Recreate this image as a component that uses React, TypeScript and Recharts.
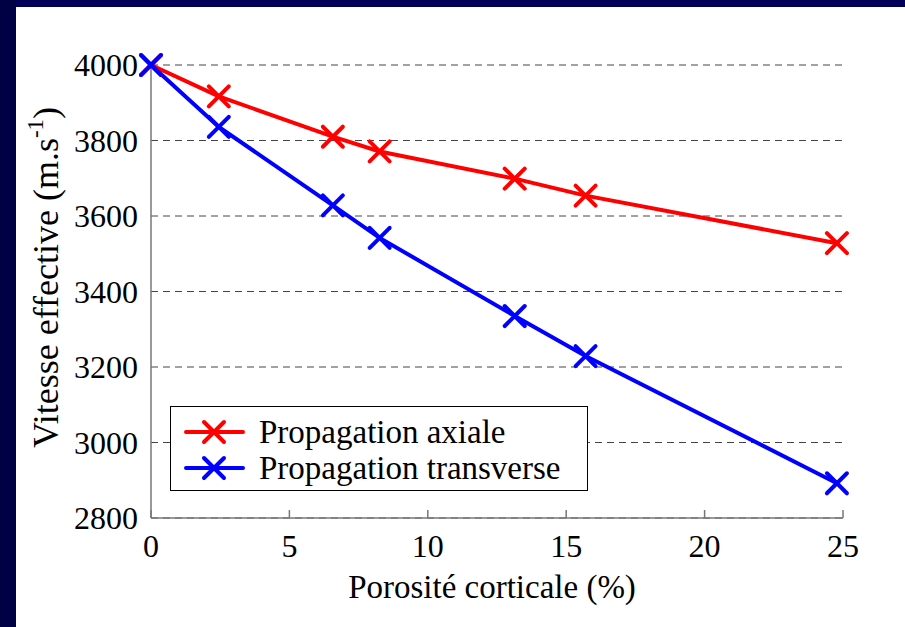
import { LineChart, Line, XAxis, YAxis, CartesianGrid, Legend } from 'recharts';

const porosity = [0, 2.45, 6.57, 8.26, 13.14, 15.7, 24.78];
const axial = [4000, 3917, 3810, 3771, 3699, 3654, 3528];
const transverse = [4000, 3836, 3628, 3542, 3335, 3229, 2892];
const xTicks = [0, 5, 10, 15, 20, 25];
const yTicks = [2800, 3000, 3200, 3400, 3600, 3800, 4000];

const seriesNames = ['Propagation axiale', 'Propagation transverse'];
const seriesColors = ['#ff0000', '#0000ff'];

const rows = porosity.map((p, i) => ({ p, axial: axial[i], transverse: transverse[i] }));

const FONT = '"Liberation Serif", "Times New Roman", serif';

function cross(color: string) {
  return (props: any) => {
    const { cx, cy, index } = props;
    const r = 10;
    return (
      <g key={`x-${color}-${index}`}>
        <line x1={cx - r} y1={cy - r} x2={cx + r} y2={cy + r} stroke={color} strokeWidth={4} strokeLinecap="round" />
        <line x1={cx - r} y1={cy + r} x2={cx + r} y2={cy - r} stroke={color} strokeWidth={4} strokeLinecap="round" />
      </g>
    );
  };
}

function LegendBox() {
  return (
    <div style={{ border: '1.5px solid #000', background: '#fff', boxSizing: 'border-box', width: 418, height: 85, paddingTop: 7, fontFamily: FONT }}>
      {seriesNames.map((name, i) => (
        <div key={name} style={{ display: 'flex', alignItems: 'center', height: 36 }}>
          <svg width={86} height={36} style={{ flex: 'none' }}>
            <line x1={15} y1={18} x2={72} y2={18} stroke={seriesColors[i]} strokeWidth={4} strokeLinecap="round" />
            <line x1={33} y1={8} x2={53} y2={28} stroke={seriesColors[i]} strokeWidth={4} strokeLinecap="round" />
            <line x1={33} y1={28} x2={53} y2={8} stroke={seriesColors[i]} strokeWidth={4} strokeLinecap="round" />
          </svg>
          <span style={{ fontSize: 33, color: '#000', marginLeft: 2, lineHeight: '36px', whiteSpace: 'nowrap' }}>{name}</span>
        </div>
      ))}
    </div>
  );
}

function YLabel(props: any) {
  const vb = props.viewBox || { x: 91, y: 65, width: 60, height: 453 };
  const x = vb.x - 33;
  const y = vb.y + vb.height / 2 - 14;
  return (
    <text x={x} y={y} transform={`rotate(-90 ${x} ${y})`} textAnchor="middle" fontSize={36} fontFamily={FONT} fill="#000">
      Vitesse effective (m.s
      <tspan fontSize={23} dy={-15}>-1</tspan>
      <tspan dy={15}>)</tspan>
    </text>
  );
}

export default function App() {
  return (
    <div style={{ position: 'absolute', left: 0, top: 0, width: 905, height: 627, background: '#fff', overflow: 'hidden' }}>
      <LineChart
        width={905}
        height={627}
        data={rows}
        margin={{ top: 65, right: 62, bottom: 29, left: 91 }}
        style={{ fontFamily: FONT }}
      >
        <CartesianGrid vertical={false} stroke="#444" strokeDasharray="7 5" strokeWidth={1} />
        <XAxis
          dataKey="p"
          type="number"
          domain={[0, 25]}
          ticks={xTicks}
          height={80}
          axisLine={{ stroke: '#777', strokeWidth: 1.5 }}
          tickLine={{ stroke: '#777', strokeWidth: 1.5 }}
          tickSize={-8}
          tickMargin={24}
          tick={{ fontSize: 32, fill: '#000', fontFamily: FONT }}
          label={{ value: 'Porosité corticale (%)', position: 'insideBottom', offset: 0, dx: -5, fontSize: 33, fill: '#000', fontFamily: FONT }}
        />
        <YAxis
          type="number"
          domain={[2800, 4000]}
          ticks={yTicks}
          width={60}
          axisLine={{ stroke: '#777', strokeWidth: 1.5 }}
          tickLine={false}
          tickSize={0}
          tickMargin={13}
          tick={{ fontSize: 32, fill: '#000', fontFamily: FONT }}
          label={{ content: YLabel }}
        />
        <Legend
          layout="vertical"
          align="center"
          verticalAlign="middle"
          content={() => <LegendBox />}
          wrapperStyle={{ position: 'absolute', left: 170, top: 406, width: 418, height: 85 }}
        />
        <Line dataKey="axial" name={seriesNames[0]} type="linear" stroke={seriesColors[0]} strokeWidth={4} dot={cross(seriesColors[0])} activeDot={false} isAnimationActive={false} />
        <Line dataKey="transverse" name={seriesNames[1]} type="linear" stroke={seriesColors[1]} strokeWidth={4} dot={cross(seriesColors[1])} activeDot={false} isAnimationActive={false} />
      </LineChart>
      <div style={{ position: 'absolute', left: 0, top: 0, width: 905, height: 7, background: '#000058' }} />
      <div style={{ position: 'absolute', left: 0, top: 0, width: 16, height: 627, background: '#000044' }} />
    </div>
  );
}
